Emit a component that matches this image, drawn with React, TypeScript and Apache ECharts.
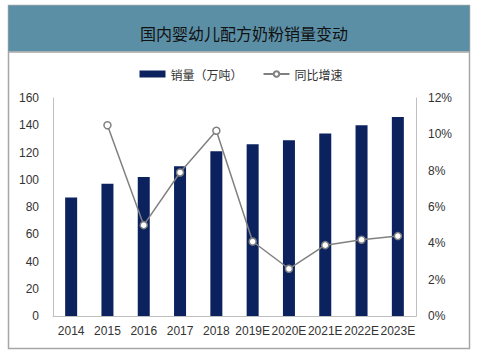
import React, { useEffect, useRef } from "react";
import * as echarts from "echarts";

const categories = ["2014", "2015", "2016", "2017", "2018", "2019E", "2020E", "2021E", "2022E", "2023E"];
const salesValues = [87, 97, 102, 110, 121, 126, 129, 134, 140, 146];
const growthValues: (number | null)[] = [null, 10.5, 5.0, 7.9, 10.2, 4.1, 2.6, 3.9, 4.2, 4.4];
const leftTicks = [0, 20, 40, 60, 80, 100, 120, 140, 160];
const titleText = "国内婴幼儿配方奶粉销量变动";
const salesName = "销量（万吨）";
const growthName = "同比增速";

export default function App() {
  const ref = useRef<HTMLDivElement>(null);
  useEffect(() => {
    document.body.style.margin = "0";
    const chart = echarts.init(ref.current!, null, { renderer: "svg" });
    const axisFont = { fontFamily: "Liberation Sans, Arial, sans-serif", fontSize: 12, color: "#333" };
    chart.setOption({
      animation: false,
      backgroundColor: "#fff",
      graphic: [
        { type: "rect", shape: { x: 8.5, y: 5.5, width: 461, height: 343 }, style: { fill: "#fff", stroke: "#a6a6a6", lineWidth: 1.5 }, z: -10 },
        { type: "rect", shape: { x: 8.5, y: 5.5, width: 461, height: 46 }, style: { fill: "#5b8fa6" }, z: -9 },
        { type: "line", shape: { x1: 8.5, y1: 52, x2: 469.5, y2: 52 }, style: { stroke: "#a6a6a6", lineWidth: 1.5 }, z: -8 },
      ],
      title: {
        text: titleText,
        left: 239,
        top: 20,
        textAlign: "center",
        textStyle: { fontFamily: "Noto Sans CJK SC", fontSize: 16, fontWeight: "normal", color: "#111" },
      },
      legend: {
        top: 63,
        left: "center",
        itemWidth: 26,
        itemHeight: 7,
        itemGap: 20,
        textStyle: { fontFamily: "Noto Sans CJK SC", fontSize: 12, color: "#333" },
        data: [
          { name: salesName, icon: "rect" },
          { name: growthName },
        ],
      },
      grid: { left: 53, right: 66, top: 98, bottom: 38 },
      xAxis: {
        type: "category",
        data: categories,
        axisLine: { lineStyle: { color: "#bfbfbf" } },
        axisTick: { show: false },
        axisLabel: { ...axisFont, margin: 9, interval: 0 },
      },
      yAxis: [
        {
          type: "value",
          min: leftTicks[0],
          max: leftTicks[leftTicks.length - 1],
          interval: 20,
          axisLine: { show: true, lineStyle: { color: "#bfbfbf" } },
          axisTick: { show: false },
          splitLine: { show: false },
          axisLabel: { ...axisFont, margin: 14 },
        },
        {
          type: "value",
          min: 0,
          max: 12,
          interval: 2,
          axisLine: { show: true, lineStyle: { color: "#bfbfbf" } },
          axisTick: { show: false },
          splitLine: { show: false },
          axisLabel: { ...axisFont, margin: 12, formatter: "{value}%" },
        },
      ],
      series: [
        {
          name: salesName,
          type: "bar",
          data: salesValues,
          barWidth: 12,
          itemStyle: { color: "#0b225f" },
        },
        {
          name: growthName,
          type: "line",
          yAxisIndex: 1,
          data: growthValues,
          symbol: "circle",
          symbolSize: 7,
          showAllSymbol: true,
          lineStyle: { color: "#808080", width: 1.5 },
          itemStyle: { color: "#fff", borderColor: "#808080", borderWidth: 1.5 },
        },
      ],
    });
    return () => chart.dispose();
  }, []);
  return <div ref={ref} style={{ position: "fixed", left: 0, top: 0, width: 482, height: 354 }} />;
}
